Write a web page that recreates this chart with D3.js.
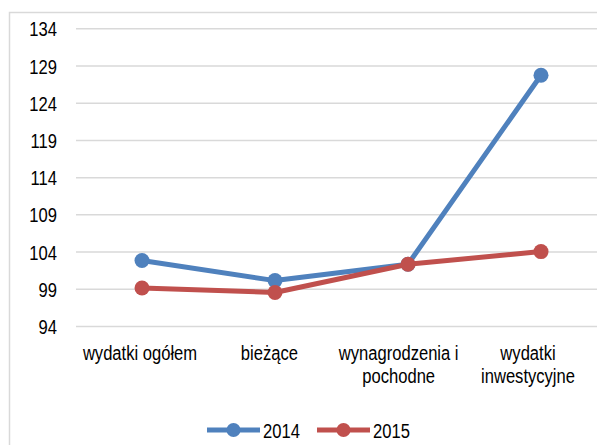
<!DOCTYPE html>
<html>
<head>
<meta charset="utf-8">
<script src="https://cdn.jsdelivr.net/npm/d3@7"></script>
<style>
    body { margin: 0; background: #fff; }
    svg text { font-family: "Liberation Sans", Arial, sans-serif; fill: #000; }
</style>
</head>
<body>
<div id="chart"></div>
<script>
// data
const categories = [["wydatki ogółem"], ["bieżące"], ["wynagrodzenia i", "pochodne"], ["wydatki", "inwestycyjne"]];
const series = ["2014", "2015"];
const values2014 = [102.8, 100.1, 102.3, 127.7];
const values2015 = [99.1, 98.5, 102.3, 104.0];
const yTicks = [94, 99, 104, 109, 114, 119, 124, 129, 134];
const colors = ["#4F81BD", "#C0504D"];

const width = 597, height = 445;
const fontSize = 21;
const narrow = 'scale(0.79,1)';  // no Arial Narrow here, squeeze Liberation Sans instead

const svg = d3.select('#chart').append('svg')
    .attr('width', width)
    .attr('height', height);

// chart area frame (cut off on the right and bottom like the source)
svg.append('rect')
    .attr('x', 9.5).attr('y', 12.5)
    .attr('width', 620).attr('height', 460)
    .attr('fill', '#fff')
    .attr('stroke', '#d9d9d9')
    .attr('stroke-width', 1.5);

const x = d3.scalePoint()
    .domain(d3.range(categories.length))
    .range([142, 541]);

const xLabel = d3.scalePoint()
    .domain(d3.range(categories.length))
    .range([140, 528]);

const y = d3.scaleLinear()
    .domain([94, 134])
    .range([326, 28.3]);

// gridlines + y labels
const yAxis = d3.axisLeft(y)
    .tickValues(yTicks)
    .tickSize(-(608 - 76));

const gy = svg.append('g')
    .attr('transform', 'translate(76,0)')
    .call(yAxis);
gy.select('.domain').remove();
gy.selectAll('.tick line')
    .attr('stroke', '#d9d9d9')
    .attr('stroke-width', 1.5);
gy.selectAll('.tick text')
    .attr('x', 0)
    .attr('font-size', fontSize)
    .attr('dy', '0.36em')
    .attr('transform', 'translate(-19,0) ' + narrow);

// category labels
const cats = svg.append('g');
categories.forEach((lines, i) => {
    const t = cats.append('text')
        .attr('text-anchor', 'middle')
        .attr('font-size', fontSize)
        .attr('transform', 'translate(' + xLabel(i) + ',360) ' + narrow);
    lines.forEach((ln, j) => {
        t.append('tspan')
            .attr('x', 0)
            .attr('y', j * 23.5)
            .text(ln);
    });
});

// series
const line = d3.line()
    .x((d, i) => x(i))
    .y(d => y(d));

[values2014, values2015].forEach((vals, s) => {
    const g = svg.append('g');
    g.append('path')
        .datum(vals)
        .attr('d', line)
        .attr('fill', 'none')
        .attr('stroke', colors[s])
        .attr('stroke-width', 5)
        .attr('stroke-linejoin', 'round');
    g.selectAll('circle')
        .data(vals)
        .join('circle')
        .attr('cx', (d, i) => x(i))
        .attr('cy', d => y(d))
        .attr('r', 7.5)
        .attr('fill', colors[s]);
});

// legend
const legendX = [207, 317];
const legend = svg.append('g');
series.forEach((name, s) => {
    const lg = legend.append('g')
        .attr('transform', 'translate(' + legendX[s] + ',430)');
    lg.append('line')
        .attr('x1', 0).attr('x2', 53)
        .attr('stroke', colors[s])
        .attr('stroke-width', 5);
    lg.append('circle')
        .attr('cx', 26.5)
        .attr('r', 7)
        .attr('fill', colors[s]);
    lg.append('text')
        .attr('x', 0)
        .attr('font-size', fontSize)
        .attr('transform', 'translate(56,8) ' + narrow)
        .text(name);
});
</script>
</body>
</html>
